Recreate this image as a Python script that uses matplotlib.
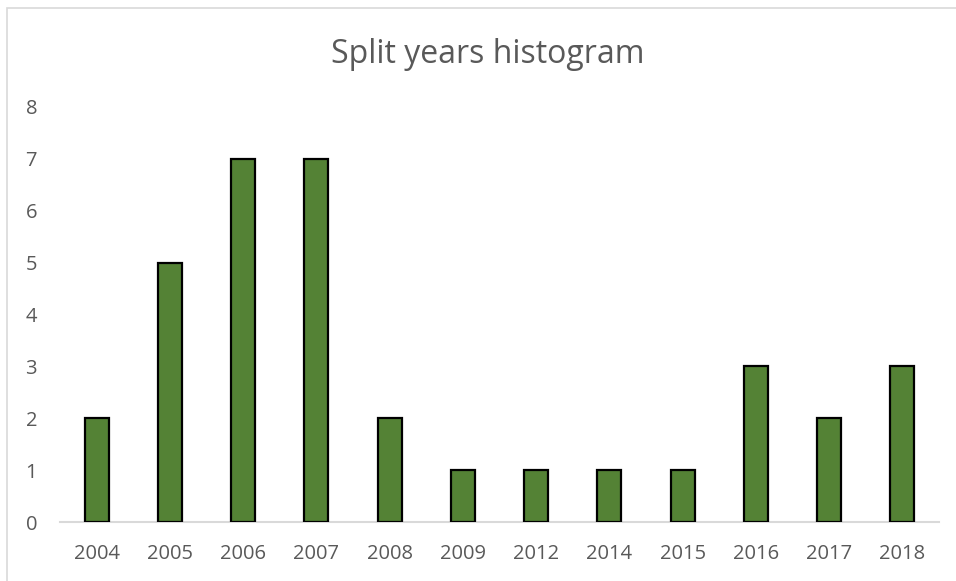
import matplotlib.pyplot as plt
from matplotlib.patches import Rectangle

# --- Data ---
years = ["2004", "2005", "2006", "2007", "2008", "2009",
         "2012", "2014", "2015", "2016", "2017", "2018"]
counts = [2, 5, 7, 7, 2, 1, 1, 1, 1, 3, 2, 3]

W, H = 956, 581
plt.rcParams['font.family'] = ['Open Sans', 'DejaVu Sans']
text_color = '#595959'

fig = plt.figure(figsize=(W / 100, H / 100), dpi=100)
ax = fig.add_axes([60 / W, 1 - 522 / H, (939 - 60) / W, (522 - 107) / H])

x = range(len(years))
ax.bar(x, counts, width=0.33, color='#548235', edgecolor='black', linewidth=1.6, zorder=3)

ax.set_xlim(-0.5, len(years) - 0.5)
ax.set_ylim(0, 8)
ax.set_xticks(list(x))
ax.set_xticklabels(years)
ax.set_yticks(range(0, 9))

for side in ['top', 'right', 'left']:
    ax.spines[side].set_visible(False)
ax.spines['bottom'].set_color('#d9d9d9')
ax.spines['bottom'].set_linewidth(1.5)
ax.tick_params(axis='both', length=0, labelsize=14.5, colors=text_color)
ax.tick_params(axis='x', pad=16)
ax.tick_params(axis='y', pad=16.5)

fig.text(487.5 / W, 1 - 63 / H, "Split years histogram", ha='center', va='baseline',
         fontsize=23, color=text_color)

# chart area border (only top/left visible in the crop)
border = Rectangle((7 / W, -0.1), 1.2, 1 - 8 / H + 0.1, transform=fig.transFigure,
                   fill=False, edgecolor='#d9d9d9', linewidth=1.2, clip_on=False)
fig.patches.append(border)

fig.savefig('out.png', dpi=100)
